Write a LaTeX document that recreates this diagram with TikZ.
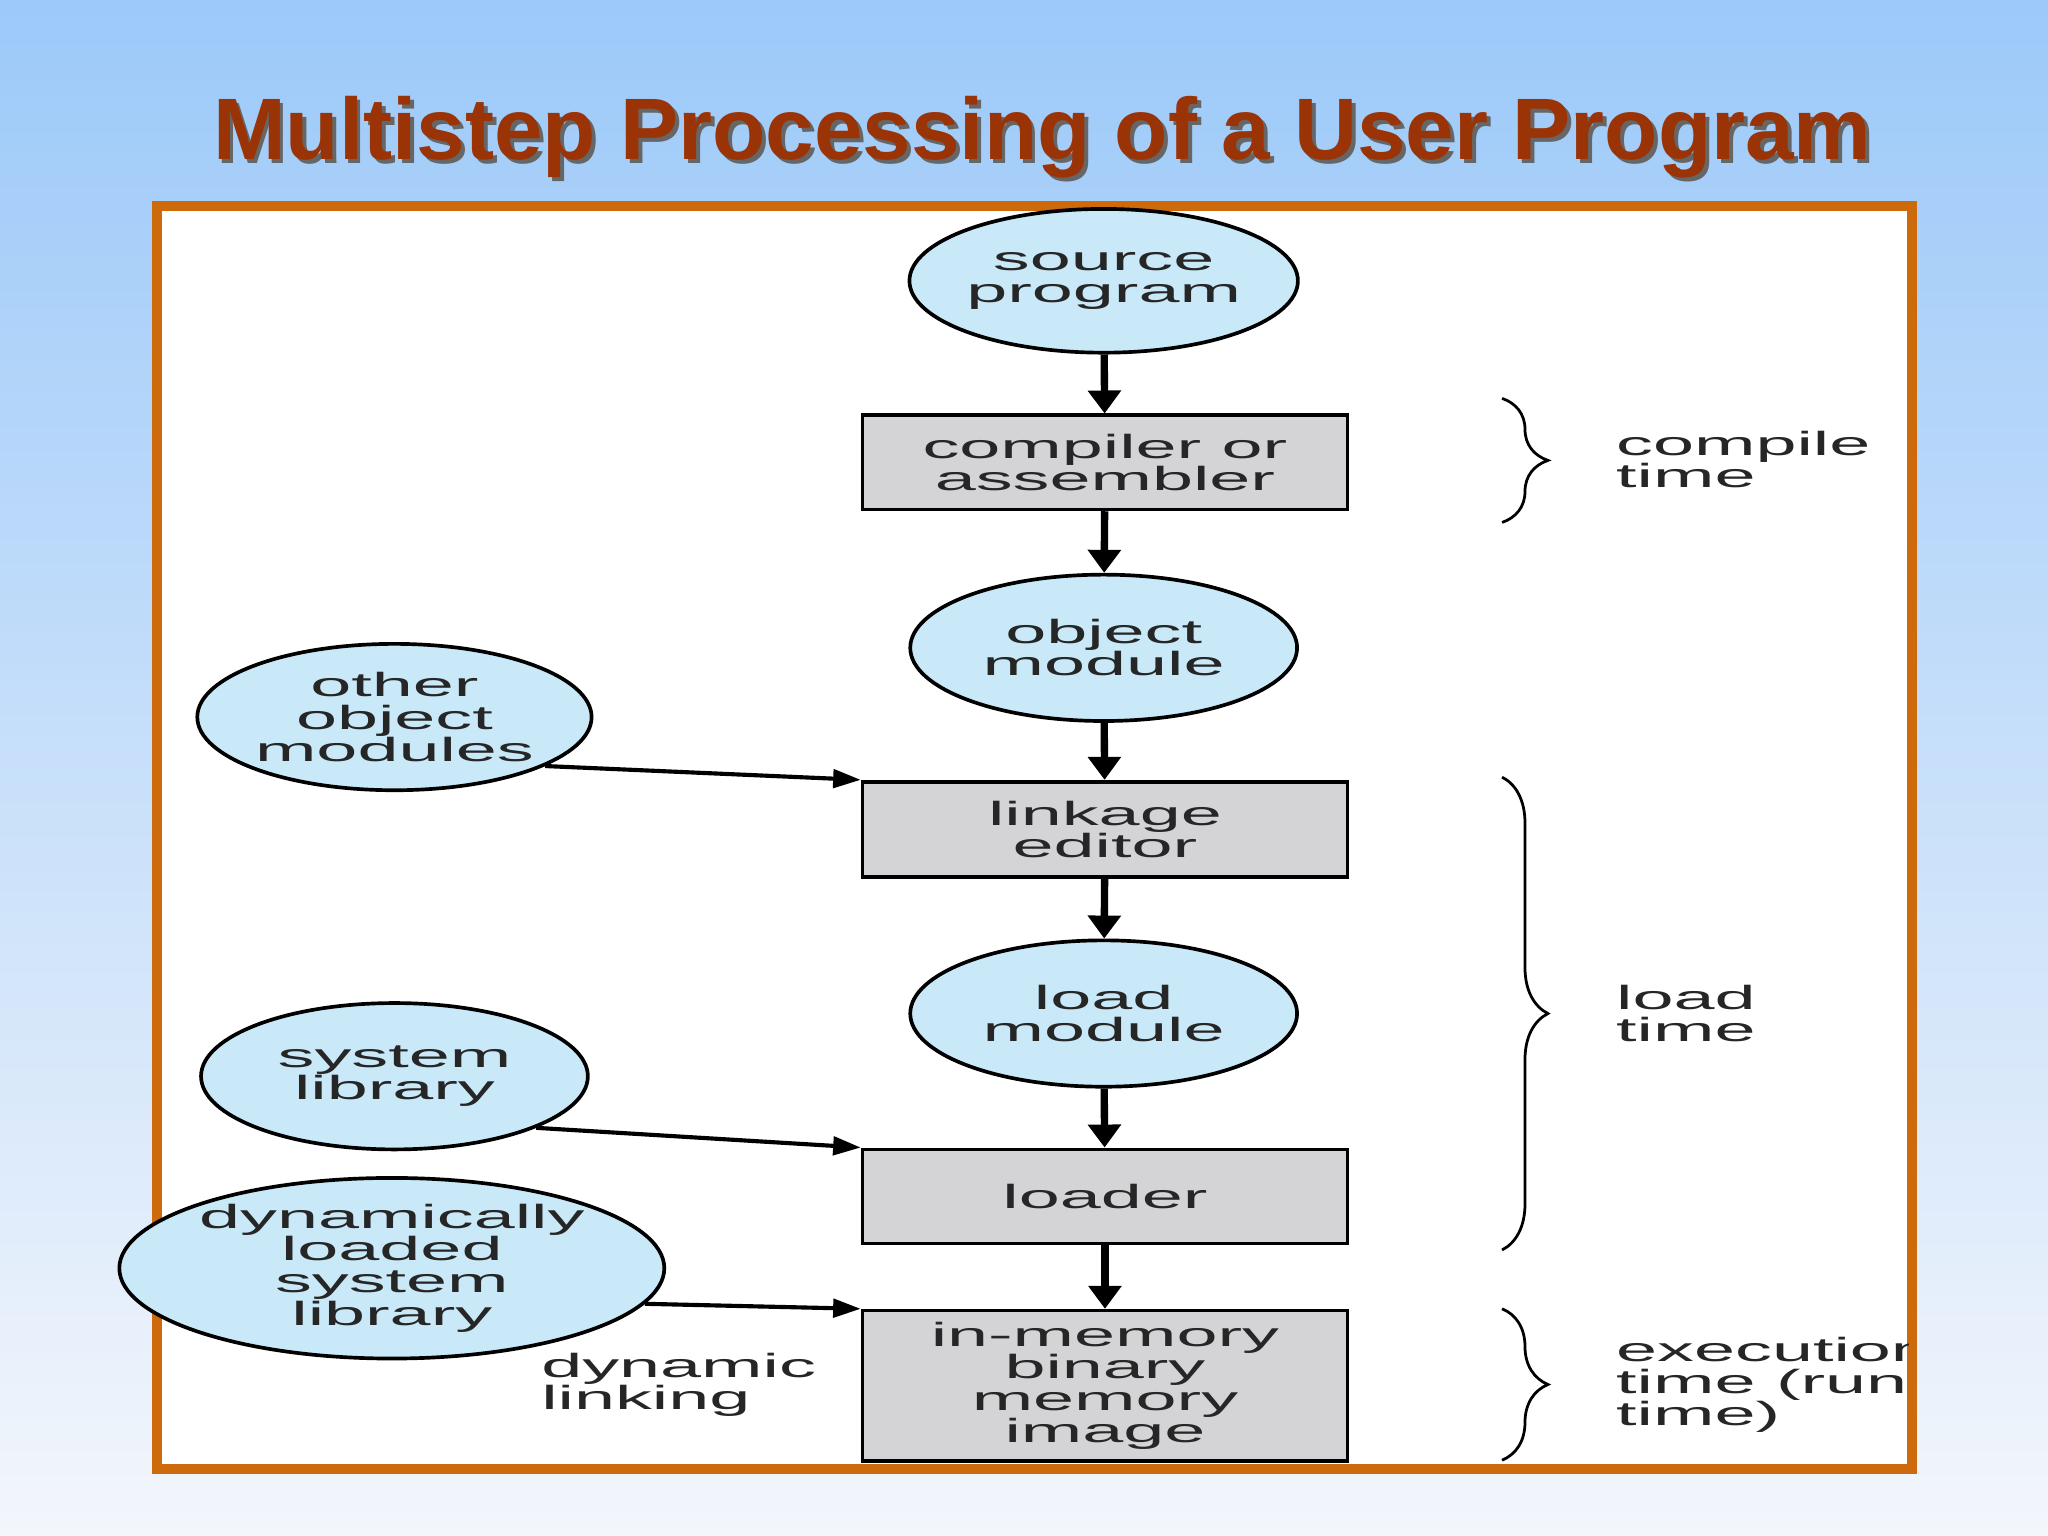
\documentclass[tikz,border=0pt]{standalone}
\usepackage{fontspec}
\setmainfont{Liberation Sans}
\newfontfamily\wide[FakeStretch=2.2]{Liberation Sans}
\usetikzlibrary{shapes.geometric,decorations.pathreplacing,arrows.meta}
\definecolor{bgtop}{HTML}{9CC9F9}
\definecolor{bgbot}{HTML}{F3F6FB}
\definecolor{ell}{HTML}{C9E9F8}
\definecolor{box}{HTML}{D4D4D6}
\definecolor{frame}{HTML}{CC6A0C}
\definecolor{ttl}{HTML}{9A3306}
\begin{document}
\begin{tikzpicture}[x=0.01cm,y=-0.01cm,
  txt/.style={font=\wide\fontsize{7.3}{7}\selectfont,align=center,text=black!85},
  el/.style={ellipse,draw,line width=0.8pt,fill=ell,txt,inner sep=0pt},
  bx/.style={rectangle,draw,line width=0.8pt,fill=box,txt,inner sep=0pt},
  va/.style={-{Triangle[length=5pt,width=7pt]},line width=1.6pt},
  sa/.style={-{Triangle[length=6pt,width=4pt]},line width=0.9pt},
  br/.style={decorate,decoration={brace,amplitude=10pt},line width=0.6pt},
  lab/.style={txt,align=left,anchor=west}]
\useasboundingbox (0,0) rectangle (1568,1176);
\shade[top color=bgtop,bottom color=bgbot] (0,0) rectangle (1568,1176);
\node[font=\bfseries\fontsize{19}{22}\selectfont,text=black!60] (tsh) at (801,108) {Multistep Processing of a User Program};
\node[font=\bfseries\fontsize{19}{22}\selectfont,text=ttl] (title) at (798,105) {Multistep Processing of a User Program};
\draw[frame,line width=2.2pt,fill=white] (120,158) rectangle (1464,1125);
\node[el,minimum width=2.96cm,minimum height=1.1cm] (src) at (845,215) {source\\program};
\node[bx,minimum width=3.71cm,minimum height=0.72cm] (comp) at (846,354) {compiler or\\assembler};
\node[el,minimum width=2.96cm,minimum height=1.12cm] (obj) at (845,496) {object\\module};
\node[bx,minimum width=3.71cm,minimum height=0.73cm] (link) at (846,635) {linkage\\editor};
\node[el,minimum width=2.96cm,minimum height=1.12cm] (lm) at (845,776) {load\\module};
\node[bx,minimum width=3.71cm,minimum height=0.72cm] (ldr) at (846,916) {loader};
\node[bx,minimum width=3.71cm,minimum height=1.15cm] (mem) at (846,1061) {in-memory\\binary\\memory\\image};
\node[el,minimum width=2.96cm,minimum height=1.12cm] (oth) at (302,549) {other\\object\\modules};
\node[el,minimum width=2.96cm,minimum height=1.12cm] (sys) at (302,824) {system\\library};
\node[el,minimum width=3.52cm,minimum height=1.34cm] (dyn) at (300,971) {dynamically\\loaded\\system\\library};
\draw[va] (src) -- (comp);
\draw[va] (comp) -- (obj);
\draw[va] (obj) -- (link);
\draw[va] (link) -- (lm);
\draw[va] (lm) -- (ldr);
\draw[va] (ldr) -- (mem);
\draw[sa] (oth.-18) -- (link.north west);
\draw[sa] (sys.-20) -- (ldr.north west);
\draw[sa] (dyn.-8) -- (mem.north west);
\coordinate (b1t) at (1150,305); \coordinate (b1b) at (1150,400);
\coordinate (b2t) at (1150,595); \coordinate (b2b) at (1150,957);
\coordinate (b3t) at (1150,1002); \coordinate (b3b) at (1150,1118);
\draw[br] (b1t) -- (b1b);
\draw[br] (b2t) -- (b2b);
\draw[br] (b3t) -- (b3b);
\node[lab] (ct) at (1225,352) {compile\\time};
\node[lab] (lt) at (1225,776) {load\\time};
\begin{scope}
\clip (120,158) rectangle (1461,1125);
\node[lab] (et) at (1225,1060) {execution\\time (run\\time)};
\end{scope}
\node[lab] (dl) at (402,1060) {dynamic\\linking};
\end{tikzpicture}
\end{document}
